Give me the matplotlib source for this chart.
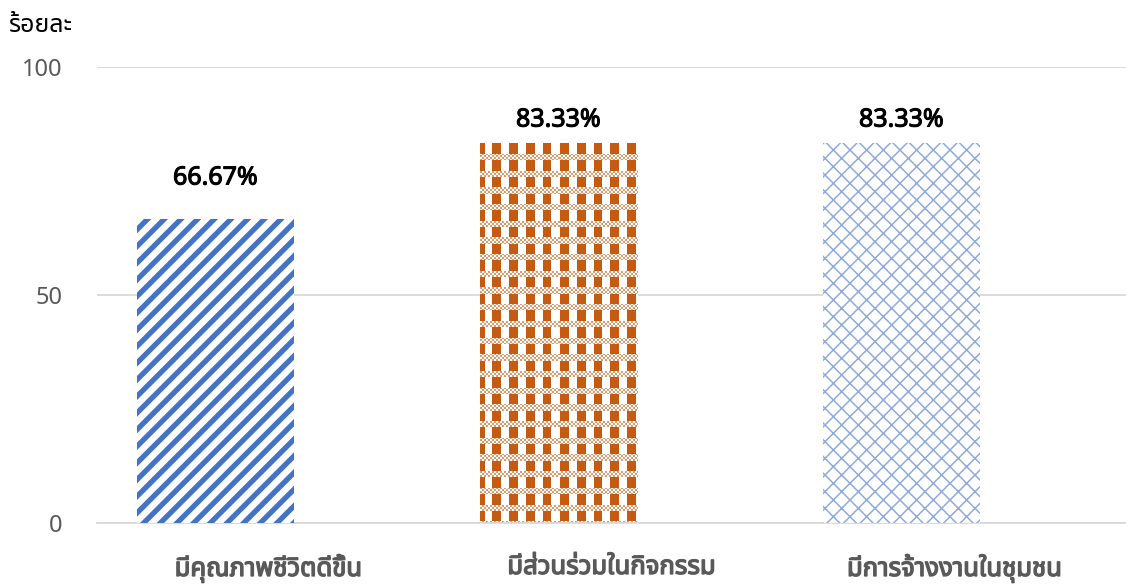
import numpy as np
import matplotlib
matplotlib.use("Agg")
import matplotlib.pyplot as plt
import matplotlib.patheffects as pe
from matplotlib import font_manager
from matplotlib.ft2font import FT2Font

categories = ["มีคุณภาพชีวิตดีขึ้น", "มีส่วนร่วมในกิจกรรม", "มีการจ้างงานในชุมชน"]
values = [66.67, 83.33, 83.33]
yticks = [0, 50, 100]
y_title = "ร้อยละ"


def thai_fonts():
    """Installed families that cover Thai, best first, and whether each has a bold face."""
    preferred = ["Leelawadee UI", "Tahoma", "Noto Sans Thai", "Noto Sans Thai UI",
                 "Sarabun", "Loma", "Garuda", "Waree", "Norasi"]
    found, bold = [], set()
    for f in font_manager.fontManager.ttflist:
        try:
            cmap = FT2Font(f.fname).get_charmap()
        except Exception:
            continue
        if 0x0E21 in cmap:
            if f.name not in found:
                found.append(f.name)
            w = f.weight if isinstance(f.weight, int) else 700 if "bold" in str(f.weight) else 400
            if w >= 600:
                bold.add(f.name)
    found.sort(key=lambda n: preferred.index(n) if n in preferred else len(preferred))
    return found, bold


thai, thai_bold = thai_fonts()
families = thai + ["DejaVu Sans"]
plt.rcParams["font.family"] = families
# fake a heavier weight with a thin outline when the Thai family has no bold face
needs_stroke = not (thai and thai[0] in thai_bold)

W, H, DPI = 1126, 585, 100
fig = plt.figure(figsize=(W / DPI, H / DPI), dpi=DPI)
ax = fig.add_axes([97 / W, (H - 523) / H, (1126 - 97) / W, (523 - 67) / H])
ax.set_xlim(-0.5, 2.5)
ax.set_ylim(0, 100)

x = np.arange(len(categories))
bar_shift = -0.155
bar_width = 0.458

# bar 1: thick blue diagonal stripes
plt.rcParams["hatch.linewidth"] = 3.8
ax.bar(x[0] + bar_shift, values[0], bar_width, facecolor="white",
       edgecolor="#4472C4", linewidth=0, hatch="//", zorder=3)

# bar 3: thin light-blue lattice
plt.rcParams["hatch.linewidth"] = 1.1
ax.bar(x[2] + bar_shift, values[2], bar_width, facecolor="white",
       edgecolor="#8FAADC", linewidth=0, hatch="xx", zorder=3)

# bar 2: orange plaid drawn as a tiled pixel pattern over the bar's rectangle
b2 = ax.bar(x[1] + bar_shift, values[1], bar_width, facecolor="none",
            linewidth=0, zorder=3)
rect = b2.patches[0]
fig.canvas.draw()
(px0, py0), (px1, py1) = ax.transData.transform(
    [(rect.get_x(), 0), (rect.get_x() + rect.get_width(), rect.get_height())])
nw, nh = int(round(px1 - px0)), int(round(py1 - py0))
period = 16.7
jj, ii = np.meshgrid(np.arange(nw), np.arange(nh))
in_block_col = ((jj + 4.7) % period) < 8.8
in_block_row = (ii % period) < 10.4
checker = ((jj // 2) + (ii // 2)) % 2 == 0
orange = np.array([0xC5, 0x5A, 0x11]) / 255
band_orange = 0.6 * orange + 0.4
img = np.ones((nh, nw, 3))
img[in_block_row & in_block_col] = orange
img[~in_block_row & checker] = band_orange
ax.imshow(img, extent=(rect.get_x(), rect.get_x() + rect.get_width(), 0, rect.get_height()),
          interpolation="nearest", aspect="auto", zorder=2.5, origin="upper")
ax.set_xlim(-0.5, 2.5)
ax.set_ylim(0, 100)

# value labels
label_offsets = [41, 23, 23]
for xi, v, off in zip(x, values, label_offsets):
    ax.annotate(f"{v:.2f}%", (xi + bar_shift, v), xytext=(0, off * 72 / DPI),
                textcoords="offset points", ha="center", va="center",
                fontsize=18, fontweight="bold", color="black",
                family=["Noto Sans"] + families,
                path_effects=[pe.withStroke(linewidth=0.8, foreground="black")])

ax.set_yticks(yticks)
ax.set_yticklabels([str(t) for t in yticks], fontsize=17, color="#595959",
                   family=["Noto Sans"] + families)
ax.set_xticks(x)
ax.set_xticklabels(categories, fontsize=18.5, fontweight="bold", color="#595959")
if needs_stroke:
    for t in ax.get_xticklabels():
        t.set_path_effects([pe.withStroke(linewidth=1.0, foreground="#595959")])
ax.tick_params(axis="both", length=0)
ax.tick_params(axis="x", pad=23)
ax.tick_params(axis="y", pad=25)
ax.grid(axis="y", color="#D9D9D9", linewidth=1.3, zorder=0)
ax.set_axisbelow(True)
for s in ["top", "right", "left"]:
    ax.spines[s].set_visible(False)
ax.spines["bottom"].set_color("#D9D9D9")
ax.spines["bottom"].set_linewidth(1.3)

fig.text(8 / W, 1 - 25 / H, y_title, fontsize=18, color="black", ha="left", va="center")

fig.savefig("out.png", dpi=DPI)
